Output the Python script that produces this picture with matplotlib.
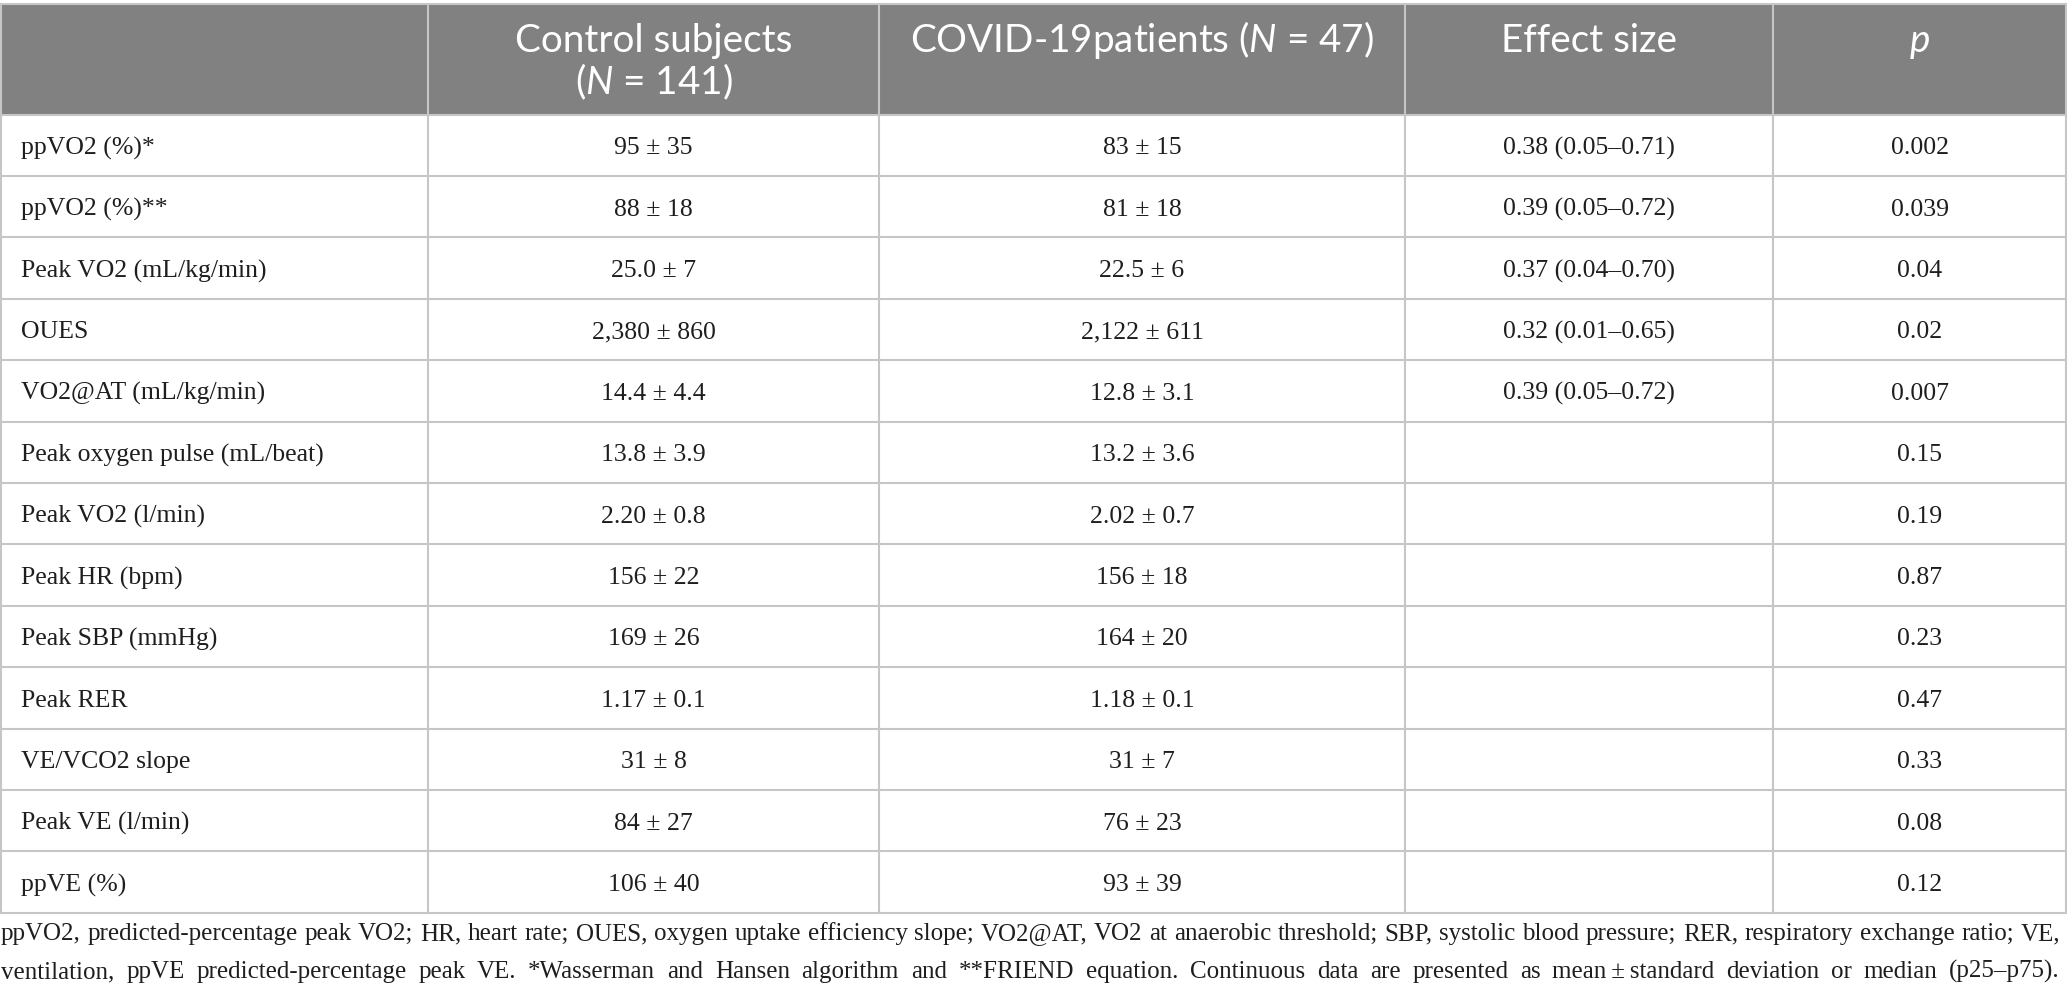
import matplotlib
matplotlib.use("Agg")
import matplotlib.pyplot as plt
from matplotlib.patches import Rectangle

# ---- data ----
header_lines = [[], ["Control subjects", "($N$ = 141)"], ["COVID-19patients ($N$ = 47)"],
                ["Effect size"], ["$p$"]]
row_labels = ["ppVO2 (%)*", "ppVO2 (%)**", "Peak VO2 (mL/kg/min)", "OUES", "VO2@AT (mL/kg/min)",
              "Peak oxygen pulse (mL/beat)", "Peak VO2 (l/min)", "Peak HR (bpm)", "Peak SBP (mmHg)",
              "Peak RER", "VE/VCO2 slope", "Peak VE (l/min)", "ppVE (%)"]
control = ["95 ± 35", "88 ± 18", "25.0 ± 7", "2,380 ± 860", "14.4 ± 4.4", "13.8 ± 3.9", "2.20 ± 0.8",
           "156 ± 22", "169 ± 26", "1.17 ± 0.1", "31 ± 8", "84 ± 27", "106 ± 40"]
covid = ["83 ± 15", "81 ± 18", "22.5 ± 6", "2,122 ± 611", "12.8 ± 3.1", "13.2 ± 3.6", "2.02 ± 0.7",
         "156 ± 18", "164 ± 20", "1.18 ± 0.1", "31 ± 7", "76 ± 23", "93 ± 39"]
effect = ["0.38 (0.05–0.71)", "0.39 (0.05–0.72)", "0.37 (0.04–0.70)", "0.32 (0.01–0.65)",
          "0.39 (0.05–0.72)", "", "", "", "", "", "", "", ""]
pvals = ["0.002", "0.039", "0.04", "0.02", "0.007", "0.15", "0.19", "0.87", "0.23", "0.47",
         "0.33", "0.08", "0.12"]
footnote = [
    "ppVO2, predicted-percentage peak VO2; HR, heart rate; OUES, oxygen uptake efficiency slope; "
    "VO2@AT, VO2 at anaerobic threshold; SBP, systolic blood pressure; RER, respiratory exchange ratio; VE,",
    "ventilation, ppVE predicted-percentage peak VE. *Wasserman and Hansen algorithm and **FRIEND equation. "
    "Continuous data are presented as mean\u2009±\u2009standard deviation or median (p25–p75).",
]

# ---- layout ----
W, H = 2067, 1006
col_edges = [1, 428, 879, 1405, 1773, 2066]
table_top, head_bot = 4, 114.5
row_h = 61.4
header_bg = "#808180"
grid_c = "#c6c6c6"
txt_c = "#1e1e1e"

plt.rcParams["mathtext.fontset"] = "custom"
plt.rcParams["mathtext.rm"] = "Lato"
plt.rcParams["mathtext.it"] = "Lato:italic"

fig = plt.figure(figsize=(W / 100, H / 100), dpi=100)
ax = fig.add_axes([0, 0, 1, 1])
ax.set_xlim(0, W)
ax.set_ylim(H, 0)
ax.axis("off")

n = len(row_labels)
table_bot = head_bot + n * row_h

# header background
ax.add_patch(Rectangle((col_edges[0], table_top), col_edges[-1] - col_edges[0], head_bot - table_top,
                       facecolor=header_bg, edgecolor="none", zorder=1))

lw = 1.5
ax.plot([col_edges[0], col_edges[-1]], [table_top, table_top], color=grid_c, lw=lw, zorder=3)
for i in range(n + 1):
    y = head_bot + i * row_h
    ax.plot([col_edges[0], col_edges[-1]], [y, y], color=grid_c, lw=lw, zorder=3)
for x in col_edges:
    ax.plot([x, x], [table_top, table_bot], color=grid_c, lw=lw, zorder=3)

# header text
hfs = 27.8
centers = [(col_edges[i] + col_edges[i + 1]) / 2 for i in range(len(col_edges) - 1)]
for j, lines in enumerate(header_lines):
    for k, h in enumerate(lines):
        ax.text(centers[j], 52 + k * 42, h, ha="center", va="baseline", color="white",
                fontsize=hfs, family="Lato", zorder=4)

# body text
bfs = 18.5
for i in range(n):
    yc = head_bot + (i + 0.5) * row_h + 3
    ax.text(col_edges[0] + 20, yc, row_labels[i], ha="left", va="center", color=txt_c,
            fontsize=bfs, family="Liberation Serif", zorder=4)
    for j, col in enumerate([control, covid, effect, pvals], start=1):
        if col[i]:
            ax.text(centers[j], yc, col[i], ha="center", va="center", color=txt_c,
                    fontsize=bfs, family="Liberation Serif", zorder=4)

# footnote (justified)
ffs = 18.0
renderer = fig.canvas.get_renderer()
x0, x1 = 1, 2060
for k, line in enumerate(footnote):
    yb = 940 + k * 38
    words = line.split(" ")
    objs = [ax.text(0, yb, w, ha="left", va="baseline", color=txt_c, fontsize=ffs,
                    family="Liberation Serif") for w in words]
    widths = [o.get_window_extent(renderer).width for o in objs]
    gap = max((x1 - x0 - sum(widths)) / (len(words) - 1), 3)
    x = x0
    for o, wdt in zip(objs, widths):
        o.set_x(x)
        x += wdt + gap

fig.savefig("out.png", dpi=100, facecolor="white")
